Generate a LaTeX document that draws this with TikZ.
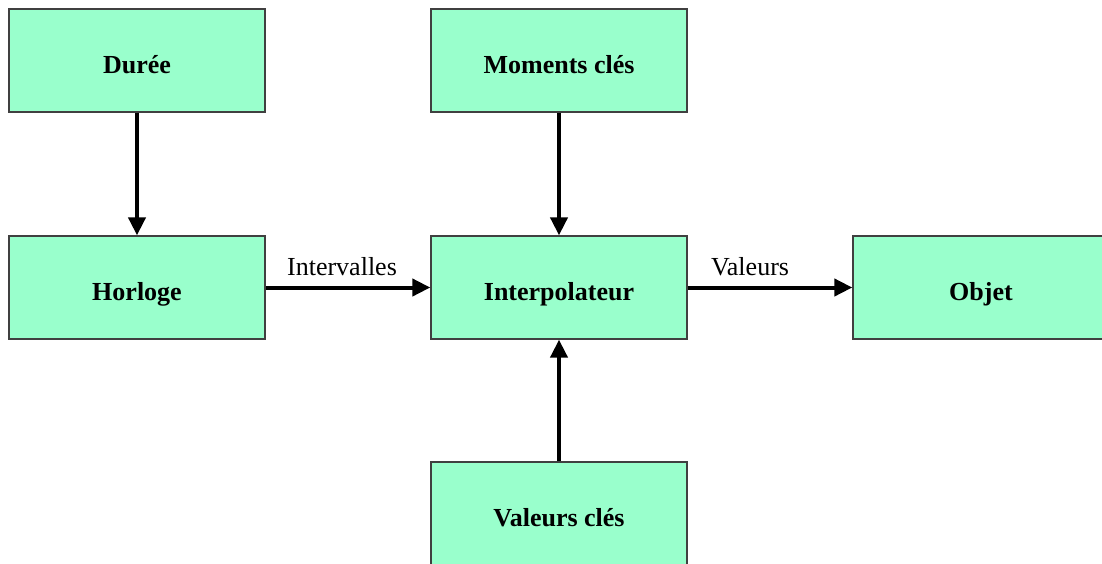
\documentclass[tikz,border=0pt]{standalone}
\usepackage{fontspec}
\setmainfont{Liberation Serif}
\usetikzlibrary{arrows.meta}
\definecolor{boxfill}{HTML}{99FFCC}
\definecolor{boxline}{HTML}{404040}
\begin{document}
\begin{tikzpicture}[x=1pt,y=-1pt,
  blk/.style={draw=boxline,line width=1.3pt,fill=boxfill,minimum width=256pt,minimum height=103pt,inner sep=0pt,text height=26pt,text depth=0pt,font=\fontsize{26}{30}\selectfont\bfseries},
  conn/.style={line width=4pt,-{Triangle[length=18pt,width=17pt]}},
  lbl/.style={font=\fontsize{26}{30}\selectfont}]
\useasboundingbox (0,0) rectangle (1102,563);
\node[blk] (duree) at (137,60.5) {Durée};
\node[blk] (horloge) at (137,287.5) {Horloge};
\node[blk] (moments) at (559,60.5) {Moments clés};
\node[blk] (interp) at (559,287.5) {Interpolateur};
\node[blk] (objet) at (981,287.5) {Objet};
\node[blk] (valeurs) at (559,513.5) {Valeurs clés};
\draw[conn] (duree) -- (horloge);
\draw[conn] (moments) -- (interp);
\draw[conn] (valeurs) -- (interp);
\draw[conn] (horloge) -- node[lbl,above=6pt,xshift=-6pt] (lint) {Intervalles} (interp);
\draw[conn] (interp) -- node[lbl,above=6pt,xshift=-20pt] (lval) {Valeurs} (objet);
\end{tikzpicture}
\end{document}
